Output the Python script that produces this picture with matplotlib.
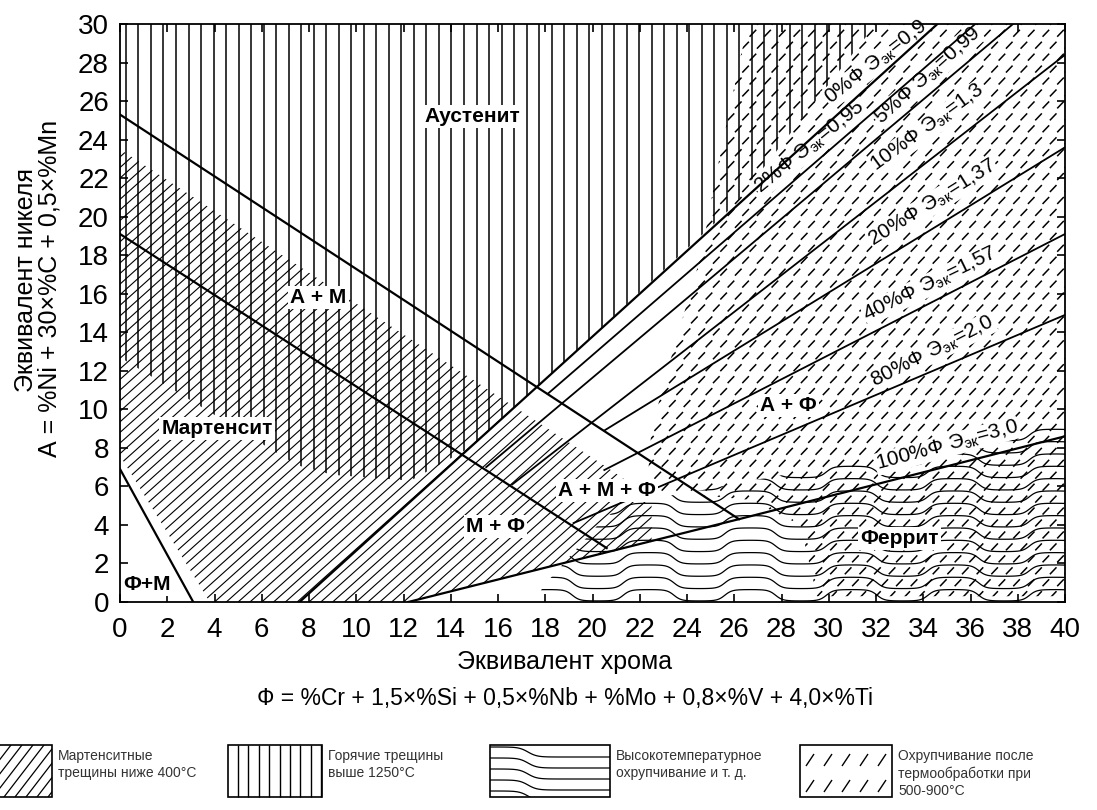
import numpy as np
import matplotlib
matplotlib.use('Agg')
import matplotlib.pyplot as plt
from matplotlib.patches import Polygon, Rectangle
from matplotlib.collections import LineCollection

plt.rcParams['font.family'] = ['Liberation Sans', 'DejaVu Sans']
plt.rcParams['mathtext.fontset'] = 'custom'
plt.rcParams['mathtext.rm'] = 'Liberation Sans'
plt.rcParams['mathtext.it'] = 'Liberation Sans'

# phase boundaries (Cr equivalent, Ni equivalent)
am_x, am_y = [0, 26.2], [25.3, 4.3]      # A / A+M
mf_x, mf_y = [0, 20.6], [19.1, 2.8]      # M / M+F
fm_x, fm_y = [0, 3.1], [6.9, 0]          # F+M corner

# iso-ferrite lines
fer_pct = ['0', '2', '5', '10', '20', '40', '80', '100']
fer_eq = ['0,9', '0,95', '0,99', '1,3', '1,37', '1,57', '2,0', '3,0']
fer_x = [[7.6, 34.6], [18.1, 36.2], [15.5, 37.8], [16.6, 40], [20.5, 40],
         [20.5, 40], [19.2, 40], [12.2, 26.2, 40]]
fer_y = [[0, 30], [10.8, 30], [7.0, 30], [6.1, 28.4], [8.9, 23.6],
         [6.85, 19.1], [4.1, 14.9], [0, 4.3, 8.6]]
lab_x = [32.0, 29.2, 34.2, 34.2, 34.4, 34.3, 34.4, 35.0]
lab_y = [28.0, 23.6, 27.3, 24.6, 20.7, 16.5, 13.0, 8.1]
lab_rot = [38, 39, 42, 36, 32, 26, 27, 15]

# hatched zones
hot_x = [0, 32, 26, 17.7, 14.8, 12.3, 9.0, 7.5, 0]
hot_y = [30, 30, 20.6, 11.2, 8.0, 6.3, 6.6, 7.1, 12.7]
mart_x = [0, 20.6, 22.5, 22.5, 12.2, 3.8, 0]
mart_y = [23.5, 7.0, 5.4, 3.16, 0, 0, 7.6]
sig_x = [17.6, 17.9, 20.3, 21.3, 24.6, 26.7, 30.9, 35.2, 40, 40]
sig_y = [0, 0.8, 4.1, 5.1, 5.8, 6.3, 7.2, 8.4, 9.3, 0]
emb_x = [22.3, 22.5, 23.4, 24.6, 25.2, 26.3, 26.6, 40, 40, 29.5, 28.8, 26.7]
emb_y = [5.8, 9, 13, 18, 22, 28.5, 30, 30, 0.3, 0.3, 4.0, 5.3]

# region names
reg_txt = ['Аустенит', 'А + М', 'Мартенсит', 'Ф+М', 'М + Ф', 'А + М + Ф', 'А + Ф', 'Феррит']
reg_x = [14.9, 8.4, 4.1, 1.15, 15.9, 20.6, 28.3, 33.0]
reg_y = [25.2, 15.8, 9.0, 0.9, 3.9, 5.8, 10.2, 3.3]

fig = plt.figure(figsize=(10.97, 8.10), dpi=100)
ax = fig.add_axes([120/1097, 1-602/810, 945/1097, 578/810])
ax.set_xlim(0, 40)
ax.set_ylim(0, 30)


def hatch(px, py, segs, lw=1.0):
    patch = Polygon(np.column_stack([px, py]), closed=True, fc='none', ec='none')
    ax.add_patch(patch)
    lc = LineCollection(segs, colors='black', linewidths=lw, zorder=1)
    ax.add_collection(lc)
    lc.set_clip_path(patch)


# hot cracks: vertical lines
hatch(hot_x, hot_y, [[(x, 0), (x, 30)] for x in np.arange(0.25, 32.5, 0.53)], lw=1.1)
# martensite cracks: diagonal lines
hatch(mart_x, mart_y, [[(c, 0), (c + 30/1.1, 30)] for c in np.arange(-28, 23, 0.5)], lw=0.8)
# high temperature embrittlement: wavy lines
xs = np.linspace(17, 40, 500)
wav = []
for b in np.arange(0.35, 9.8, 0.64):
    ys = b + 0.3*np.tanh(2.2*np.sin(2*np.pi*(xs - 17)/4.3))
    wav.append(np.column_stack([xs, ys]))
hatch(sig_x, sig_y, wav, lw=0.9)
# embrittlement after heat treatment: short dashes
dash = []
for j, yy in enumerate(np.arange(0.2, 30, 0.62)):
    for xx in np.arange(22 + 0.31*(j % 2), 40, 0.62):
        dash.append([(xx, yy), (xx + 0.28, yy + 0.36)])
hatch(emb_x, emb_y, dash, lw=1.1)

# boundary lines
for bx, by in [(am_x, am_y), (mf_x, mf_y), (fm_x, fm_y)]:
    ax.plot(bx, by, color='black', lw=1.6, zorder=3)
for i in range(len(fer_pct)):
    ax.plot(fer_x[i], fer_y[i], color='black', lw=1.6 if i in (0, 7) else 1.3, zorder=3)
    ax.text(lab_x[i], lab_y[i], fer_pct[i] + '%Ф Э$_{\\mathrm{эк}}$=' + fer_eq[i],
            rotation=lab_rot[i], ha='center', va='center', fontsize=15,
            rotation_mode='anchor', zorder=2,
            bbox=dict(fc='white', ec='none', pad=0.5))

for t, x, y in zip(reg_txt, reg_x, reg_y):
    ax.text(x, y, t, ha='center', va='center', fontsize=15, fontweight='bold', zorder=4,
            bbox=dict(fc='white', ec='none', pad=1.5))

ax.set_xticks(range(0, 41, 2))
ax.set_yticks(range(0, 31, 2))
ax.tick_params(direction='in', length=6, width=1.2, top=True, right=True,
               labelsize=20, pad=8)
ax.tick_params(axis='x', pad=11)
for s in ax.spines.values():
    s.set_linewidth(1.3)

fig.text(565/1097, 1-662/810, 'Эквивалент хрома', ha='center', va='center', fontsize=18)
fig.text(565/1097, 1-698/810, 'Ф = %Cr + 1,5×%Si + 0,5×%Nb + %Mo + 0,8×%V + 4,0×%Ti',
         ha='center', va='center', fontsize=16.5)
fig.text(26/1097, 1-280/810, 'Эквивалент никеля', ha='center', va='center',
         rotation=90, fontsize=18)
fig.text(50/1097, 1-288/810, 'А = %Ni + 30×%C + 0,5×%Mn', ha='center', va='center',
         rotation=90, fontsize=18)

# legend strip in pixel units
lg = fig.add_axes([0, 0, 1, 1])
lg.set_xlim(0, 1097)
lg.set_ylim(810, 0)
lg.axis('off')
boxes = [(-2, 54), (228, 94), (490, 120), (800, 92)]
leg_txt = ['Мартенситные\nтрещины ниже 400°C', 'Горячие трещины\nвыше 1250°C',
           'Высокотемпературное\nохрупчивание и т. д.',
           'Охрупчивание после\nтермообработки при\n500-900°C']
rects = []
for (bx, bw), t in zip(boxes, leg_txt):
    r = Rectangle((bx, 745), bw, 52, fc='none', ec='black', lw=1.2)
    lg.add_patch(r)
    rects.append(r)
    lg.text(bx + bw + 6, 749, t, ha='left', va='top', fontsize=10, linespacing=1.3,
            color='#333333')
segs = [[(c, 797), (c + 40, 745)] for c in range(-40, 60, 11)]
lc = LineCollection(segs, colors='black', linewidths=0.9)
lg.add_collection(lc)
lc.set_clip_path(rects[0])
lg.add_collection(LineCollection([[(x, 745), (x, 797)] for x in np.arange(238, 322, 10.4)],
                                 colors='black', linewidths=1.0))
xw = np.linspace(490, 610, 200)
wl = [np.column_stack([xw, y0 + 5*np.tanh((xw - 528)/9)]) for y0 in range(752, 800, 11)]
lc = LineCollection(wl, colors='black', linewidths=0.9)
lg.add_collection(lc)
lc.set_clip_path(rects[2])
dd = []
for yy in (760, 786):
    for xx in range(810, 892, 18):
        dd.append([(xx - 4, yy + 6), (xx + 4, yy - 6)])
lg.add_collection(LineCollection(dd, colors='black', linewidths=1.0))

fig.savefig('out.png', dpi=100, facecolor='white')
